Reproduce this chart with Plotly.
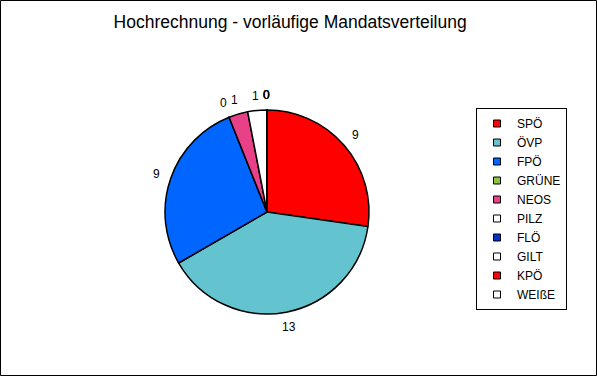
import math
import plotly.graph_objects as go

parties = ["SPÖ", "ÖVP", "FPÖ", "GRÜNE", "NEOS", "PILZ", "FLÖ", "GILT", "KPÖ", "WEIßE"]
seats = [9, 13, 9, 0, 1, 1, 0, 0, 0, 0]
colors = ["#ff0000", "#63c3cf", "#0066ff", "#8cc63f", "#e84188", "#ffffff",
          "#0033cc", "#ffffff", "#ff0000", "#ffffff"]

W, H = 597, 376
cx, cy, r = 267, 212, 102
r_lab = 117

fig = go.Figure()
fig.add_trace(go.Pie(
    labels=parties, values=seats, sort=False, direction="clockwise", rotation=0,
    marker=dict(colors=colors, line=dict(color="black", width=1.5)),
    textinfo="none", showlegend=False, hoverinfo="label+value",
    domain=dict(x=[(cx - r) / W, (cx + r) / W], y=[(H - cy - r) / H, (H - cy + r) / H]),
))

# legend entries (square markers)
for p, c in zip(parties, colors):
    fig.add_trace(go.Scatter(x=[None], y=[None], mode="markers", name=p,
                             marker=dict(symbol="square", size=7, color=c,
                                         line=dict(color="black", width=1)),
                             showlegend=True, hoverinfo="skip"))

# value labels positioned from the data (mid-angle of each slice)
total = sum(seats)
annotations = []
cum = 0
for v in seats:
    ang = 2 * math.pi * (cum + v / 2) / total
    cum += v
    px = cx + r_lab * math.sin(ang)
    py = cy - r_lab * math.cos(ang)
    annotations.append(dict(x=px / W, y=1 - py / H, xref="paper", yref="paper",
                            text=str(v), showarrow=False, xanchor="center", yanchor="middle",
                            font=dict(family="Liberation Sans", size=12, color="black")))

fig.update_layout(
    width=W, height=H, margin=dict(l=0, r=0, t=0, b=0),
    paper_bgcolor="white", plot_bgcolor="white",
    font=dict(family="Liberation Sans", size=12, color="black"),
    xaxis=dict(visible=False), yaxis=dict(visible=False),
    title=dict(text="Hochrechnung - vorläufige Mandatsverteilung", x=0.486, xanchor="center",
               y=1 - 22 / H, yanchor="middle", font=dict(size=17.5, color="black")),
    legend=dict(x=476 / W, xanchor="left", y=1 - 108 / H, yanchor="top",
                bordercolor="black", borderwidth=1, bgcolor="white",
                font=dict(size=12), traceorder="normal", itemwidth=30,
                tracegroupgap=0),
    annotations=annotations,
    shapes=[dict(type="rect", xref="paper", yref="paper", x0=0.5 / W, x1=1 - 0.5 / W,
                 y0=0.5 / H, y1=1 - 0.5 / H, line=dict(color="black", width=1))],
)

fig.write_html("out.html", config={"displayModeBar": False},
               post_script="document.body.style.margin='0';document.body.style.overflow='hidden';")
